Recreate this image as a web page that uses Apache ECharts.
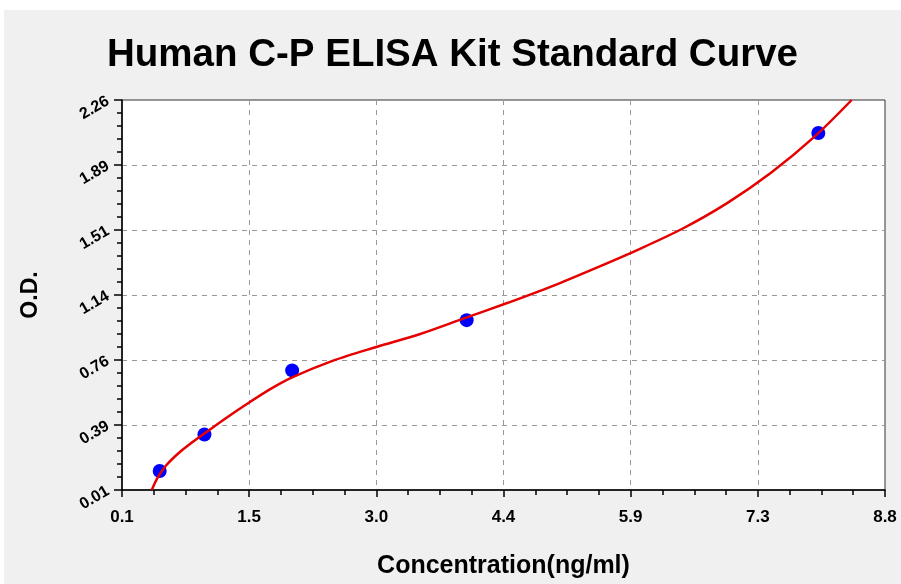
<!DOCTYPE html>
<html>
<head>
<meta charset="utf-8">
<script src="https://cdn.jsdelivr.net/npm/echarts@6/dist/echarts.min.js"></script>
<style>
  html, body { margin: 0; padding: 0; background: #ffffff; }
  #chart { position: absolute; left: 4px; top: 10px; width: 897px; height: 574px; background: #f0f0f0; }
</style>
</head>
<body>
<div id="chart"></div>
<script>
// Standards: concentration (ng/ml) and measured optical density
const standardConc = [0.53, 1.04, 2.04, 4.03, 8.04];
const standardOD = [0.12, 0.33, 0.70, 0.99, 2.07];

// Fitted standard curve, sampled along the concentration range
const curveConc = [0.44, 0.50, 0.60, 0.75, 0.90, 1.05, 1.30, 1.55, 1.80, 2.04, 2.50, 3.00, 3.50, 4.00, 4.50, 5.00, 5.50, 6.00, 6.50, 7.00, 7.50, 8.00, 8.42];
const curveOD = [0.01, 0.075, 0.15, 0.225, 0.285, 0.34, 0.43, 0.515, 0.595, 0.66, 0.755, 0.835, 0.91, 1.00, 1.09, 1.185, 1.29, 1.40, 1.52, 1.665, 1.84, 2.05, 2.26];

// Axis tick labels
const xTickLabels = ['0.1', '1.5', '3.0', '4.4', '5.9', '7.3', '8.8'];
const yTickLabels = ['0.01', '0.39', '0.76', '1.14', '1.51', '1.89', '2.26'];

const X_MIN = 0.1, X_MAX = 8.8, X_STEP = 1.45;
const Y_MIN = 0.01, Y_MAX = 2.26, Y_STEP = 0.375;

const FONT = 'Liberation Sans, Arial, sans-serif';

const chart = echarts.init(document.getElementById('chart'), null, { renderer: 'canvas' });

chart.setOption({
  backgroundColor: '#f0f0f0',
  animation: false,
  title: {
    text: 'Human C-P ELISA Kit Standard Curve',
    left: 'center',
    top: 21,
    textStyle: { fontFamily: FONT, fontWeight: 'bold', fontSize: 38.5, color: '#000' }
  },
  grid: {
    left: 118, right: 16, top: 90, bottom: 92,
    show: true, backgroundColor: '#ffffff', borderColor: '#333', borderWidth: 1
  },
  xAxis: {
    type: 'value',
    min: X_MIN, max: X_MAX, interval: X_STEP,
    name: 'Concentration(ng/ml)',
    nameLocation: 'middle',
    nameGap: 64,
    nameTextStyle: { fontFamily: FONT, fontWeight: 'bold', fontSize: 25, color: '#000' },
    axisLine: { show: true, lineStyle: { color: '#000', width: 1.5 } },
    axisTick: { show: true, length: 7, lineStyle: { color: '#000', width: 1.5 } },
    minorTick: { show: true, splitNumber: 4, length: 5, lineStyle: { color: '#000', width: 1.5 } },
    axisLabel: {
      margin: 19,
      fontFamily: FONT, fontWeight: 'bold', fontSize: 17, color: '#000',
      formatter: v => xTickLabels[Math.round((v - X_MIN) / X_STEP)] || ''
    },
    splitLine: { show: true, showMinLine: false, showMaxLine: false, lineStyle: { color: '#999', type: [5, 5], width: 1 } }
  },
  yAxis: {
    type: 'value',
    min: Y_MIN, max: Y_MAX, interval: Y_STEP,
    name: 'O.D.',
    nameLocation: 'middle',
    nameGap: 80,
    nameRotate: 90,
    nameTextStyle: { fontFamily: FONT, fontWeight: 'bold', fontSize: 23, color: '#000' },
    axisLine: { show: true, lineStyle: { color: '#000', width: 1.5 } },
    axisTick: { show: true, length: 8, lineStyle: { color: '#000', width: 1.5 } },
    minorTick: { show: true, splitNumber: 5, length: 5, lineStyle: { color: '#000', width: 1.5 } },
    axisLabel: {
      margin: 14, rotate: 30,
      fontFamily: FONT, fontWeight: 'bold', fontSize: 16, color: '#000',
      formatter: v => yTickLabels[Math.round((v - Y_MIN) / Y_STEP)] || ''
    },
    splitLine: { show: true, showMinLine: false, showMaxLine: false, lineStyle: { color: '#999', type: [5, 5], width: 1 } }
  },
  series: [
    {
      type: 'scatter',
      data: standardConc.map((c, i) => [c, standardOD[i]]),
      symbol: 'circle',
      symbolSize: 14,
      itemStyle: { color: '#0000ff', opacity: 1 },
      z: 2
    },
    {
      type: 'line',
      data: curveConc.map((c, i) => [c, curveOD[i]]),
      smooth: 0.3,
      showSymbol: false,
      lineStyle: { color: '#e60000', width: 2.5 },
      z: 3
    }
  ]
});
</script>
</body>
</html>
